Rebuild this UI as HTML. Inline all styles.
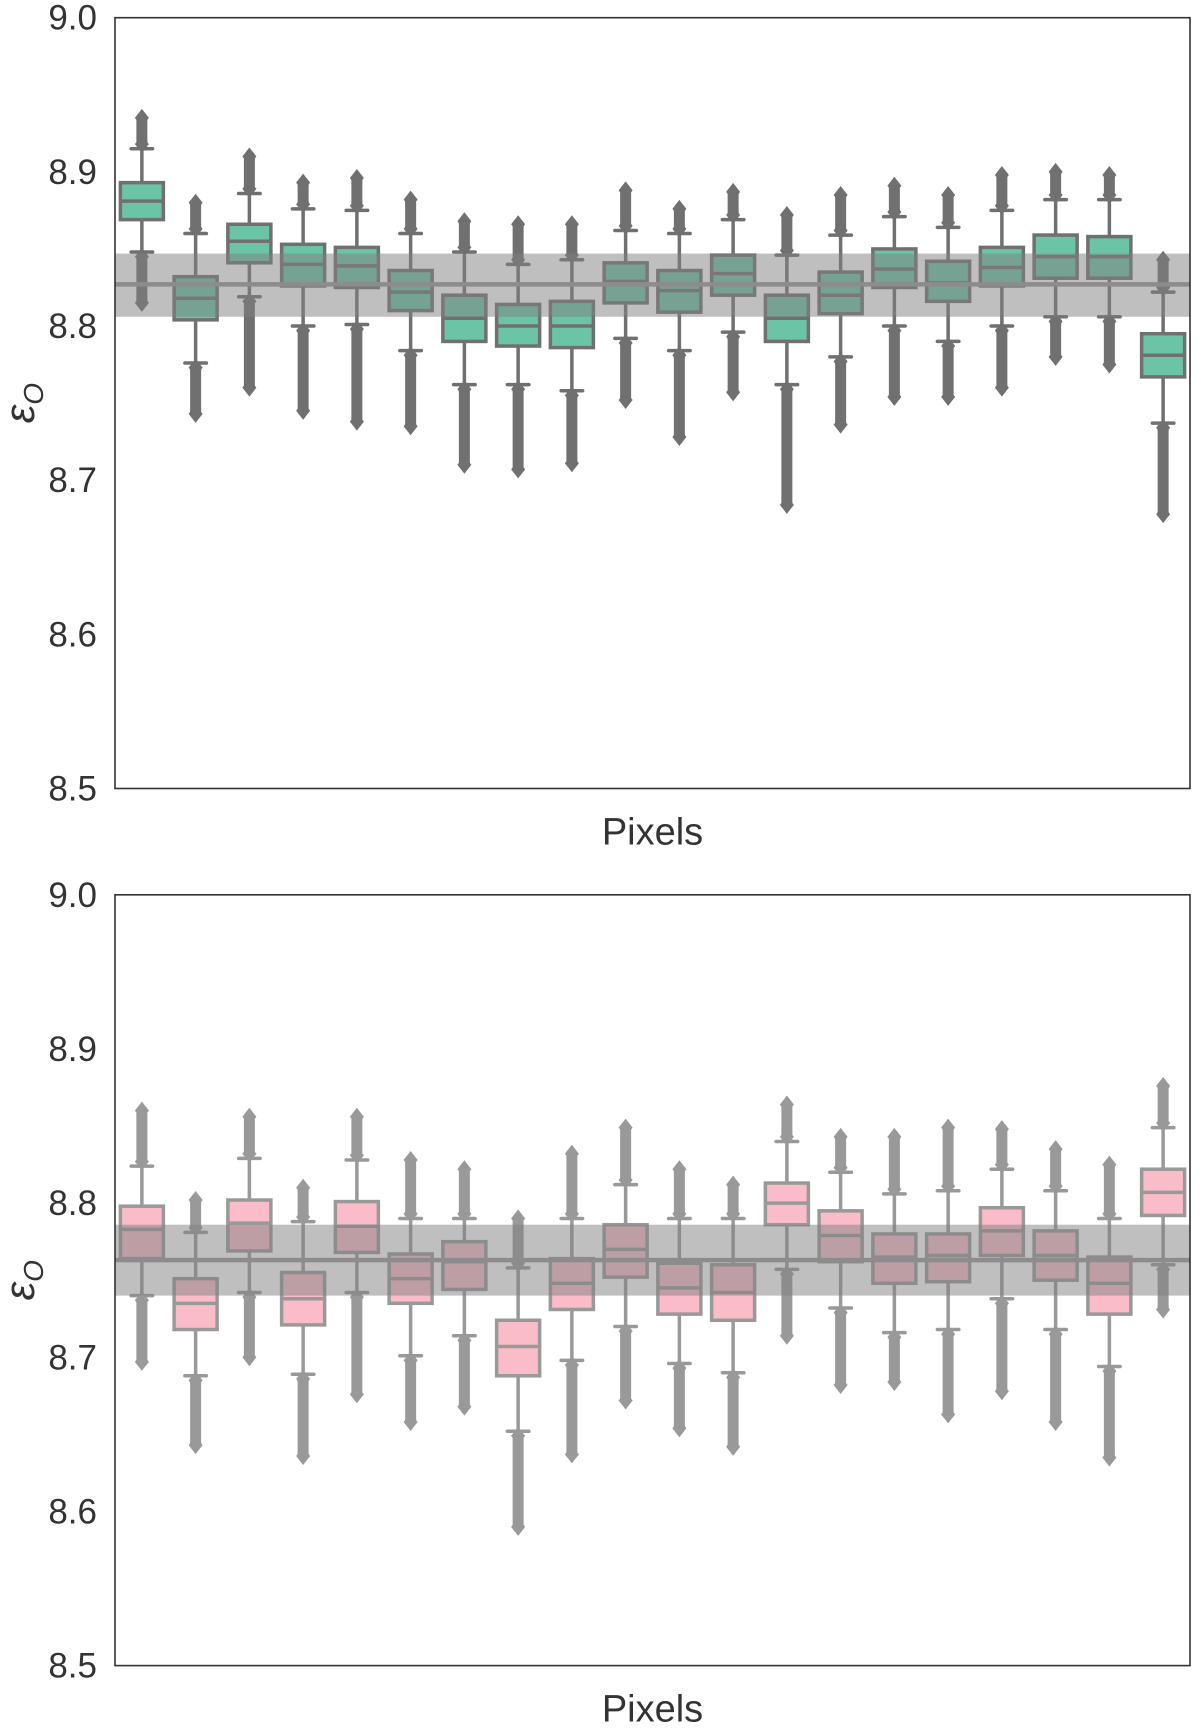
<!DOCTYPE html>
<html><head><meta charset="utf-8"><style>
html,body{margin:0;padding:0;background:#fff;}
svg{display:block;font-family:"Liberation Sans",sans-serif;}
</style></head><body>
<svg id="chart" width="1200" height="1734" viewBox="0 0 1200 1734"></svg>
<script>
// Top panel data
const topQ1=[8.869,8.804,8.841,8.826,8.825,8.810,8.790,8.787,8.786,8.815,8.809,8.820,8.790,8.808,8.825,8.816,8.826,8.831,8.831,8.767];
const topMed=[8.881,8.818,8.855,8.840,8.839,8.822,8.805,8.800,8.800,8.829,8.823,8.834,8.805,8.820,8.837,8.828,8.838,8.845,8.845,8.781];
const topQ3=[8.893,8.832,8.866,8.853,8.851,8.836,8.820,8.814,8.816,8.841,8.836,8.846,8.820,8.835,8.850,8.842,8.851,8.859,8.858,8.795];
const topWlo=[8.848,8.776,8.819,8.800,8.801,8.784,8.762,8.762,8.758,8.792,8.784,8.796,8.762,8.780,8.800,8.790,8.800,8.806,8.806,8.737];
const topWhi=[8.915,8.860,8.886,8.876,8.875,8.860,8.848,8.840,8.843,8.862,8.860,8.869,8.846,8.859,8.871,8.864,8.875,8.882,8.882,8.822];
const topOmin=[8.815,8.743,8.760,8.745,8.738,8.735,8.710,8.707,8.711,8.752,8.728,8.757,8.684,8.736,8.754,8.754,8.760,8.780,8.775,8.678];
const topOmax=[8.935,8.880,8.910,8.893,8.896,8.882,8.868,8.866,8.866,8.888,8.876,8.887,8.872,8.885,8.891,8.885,8.898,8.900,8.898,8.843];
const topBand=[8.806,8.847];
const topMean=8.827;
// Bottom panel data
const botQ1=[8.764,8.718,8.769,8.721,8.768,8.735,8.744,8.688,8.731,8.752,8.728,8.724,8.786,8.762,8.748,8.749,8.766,8.750,8.728,8.792];
const botMed=[8.783,8.735,8.787,8.738,8.785,8.751,8.762,8.707,8.748,8.770,8.745,8.742,8.800,8.779,8.765,8.766,8.782,8.766,8.748,8.807];
const botQ3=[8.798,8.751,8.802,8.755,8.801,8.767,8.775,8.724,8.764,8.786,8.761,8.760,8.813,8.795,8.780,8.780,8.797,8.782,8.765,8.822];
const botWlo=[8.740,8.688,8.742,8.689,8.742,8.701,8.714,8.652,8.698,8.720,8.696,8.690,8.757,8.732,8.716,8.718,8.738,8.718,8.694,8.760];
const botWhi=[8.824,8.781,8.829,8.788,8.828,8.790,8.790,8.758,8.790,8.812,8.790,8.790,8.840,8.820,8.806,8.808,8.822,8.808,8.790,8.849];
const botOmin=[8.697,8.643,8.700,8.636,8.676,8.658,8.668,8.590,8.637,8.672,8.654,8.642,8.714,8.682,8.684,8.663,8.678,8.658,8.635,8.731];
const botOmax=[8.860,8.802,8.856,8.810,8.856,8.828,8.822,8.790,8.832,8.849,8.822,8.812,8.864,8.843,8.843,8.849,8.848,8.835,8.825,8.876];
const botBand=[8.740,8.786];
const botMean=8.763;
const yTicks=["8.5","8.6","8.7","8.8","8.9","9.0"];

const NS="http://www.w3.org/2000/svg";
const svg=document.getElementById('chart');
function mk(tag,attrs,parent){const e=document.createElementNS(NS,tag);for(const k in attrs)e.setAttribute(k,attrs[k]);(parent||svg).appendChild(e);return e;}

function panel(name,top,bottom,q1,med,q3,wlo,whi,omin,omax,band,mean,fill,stroke){
  const L=115,R=1190;
  const g=mk('g',{});
  
  
  const y=v=>bottom-(v-8.5)/0.5*(bottom-top);
  const n=q1.length,slot=(R-L)/n,bw=slot*0.8;
  const x=i=>L+slot*(i+0.5);
  for(let i=0;i<n;i++){
    const bg=mk('g',{},g);
    
    
    const cx=x(i);
    const oc=[[omax[i],whi[i]+0.003],[omin[i],wlo[i]-0.003]];
    oc.forEach(([a,b])=>{
      if(Math.abs(a-b)<0.002)return;
      const ln=mk('line',{x1:cx,x2:cx,y1:y(a),y2:y(b),stroke:stroke,'stroke-width':11},bg);
      
      
      [a,b].forEach(v=>{const yy=y(v);mk('polygon',{points:`${cx},${yy-9} ${cx+7},${yy} ${cx},${yy+9} ${cx-7},${yy}`,fill:stroke},bg);});
    });
    mk('line',{x1:cx,x2:cx,y1:y(whi[i]),y2:y(q3[i]),stroke:stroke,'stroke-width':3.5},bg);
    mk('line',{x1:cx,x2:cx,y1:y(q1[i]),y2:y(wlo[i]),stroke:stroke,'stroke-width':3.5},bg);
    mk('line',{x1:cx-bw/4,x2:cx+bw/4,y1:y(whi[i]),y2:y(whi[i]),stroke:stroke,'stroke-width':3.5,'stroke-linecap':'round'},bg);
    mk('line',{x1:cx-bw/4,x2:cx+bw/4,y1:y(wlo[i]),y2:y(wlo[i]),stroke:stroke,'stroke-width':3.5,'stroke-linecap':'round'},bg);
    mk('rect',{x:cx-bw/2,y:y(q3[i]),width:bw,height:y(q1[i])-y(q3[i]),fill:fill,stroke:stroke,'stroke-width':3.5},bg);
    mk('line',{x1:cx-bw/2,x2:cx+bw/2,y1:y(med[i]),y2:y(med[i]),stroke:stroke,'stroke-width':3.5},bg);
  }
  const b=mk('rect',{x:L,y:y(band[1]),width:R-L,height:y(band[0])-y(band[1]),fill:'rgba(128,128,128,0.5)'},g);
  
  
  const m=mk('line',{x1:L,x2:R,y1:y(mean),y2:y(mean),stroke:'#8c8c8c','stroke-width':4.5},g);
  
  
  const fr=mk('rect',{x:L,y:top,width:R-L,height:bottom-top,fill:'none',stroke:'#333','stroke-width':1.6},g);
  
  
  yTicks.forEach(t=>{
    const tx=mk('text',{x:L-18,y:y(parseFloat(t))+12,'text-anchor':'end','font-size':35,fill:'#333'},g);
    
    
    tx.textContent=t;
  });
  const xl=mk('text',{x:(L+R)/2,y:bottom+56,'text-anchor':'middle','font-size':38,fill:'#333'},g);
  
  
  xl.textContent='Pixels';
  const yl=mk('text',{x:0,y:0,transform:`translate(34,${(top+bottom)/2}) rotate(-90)`,'text-anchor':'middle','font-size':42,fill:'#333','font-style':'italic'},g);
  
  
  yl.innerHTML='ε<tspan font-size="28" dy="9">O</tspan>';
}
panel('top-panel',17.7,788.5,topQ1,topMed,topQ3,topWlo,topWhi,topOmin,topOmax,topBand,topMean,'#6cc4a6','#707070');
panel('bottom-panel',894.8,1665.6,botQ1,botMed,botQ3,botWlo,botWhi,botOmin,botOmax,botBand,botMean,'#f9bcc8','#999999');
</script>
</body></html>
